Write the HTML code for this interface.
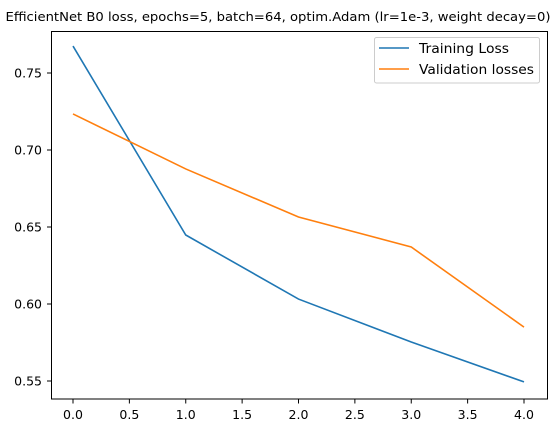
<!DOCTYPE html>
<html><head><meta charset="utf-8"><style>
html,body{margin:0;padding:0;background:#fff;}
svg{display:block;font-family:"DejaVu Sans","Liberation Sans",sans-serif;}
</style></head><body>
<svg id="chart" width="556" height="433" viewBox="0 0 556 433">
<text x="278" y="21" text-anchor="middle" font-size="12.5" fill="#000" textLength="545" lengthAdjust="spacingAndGlyphs">EfficientNet B0 loss, epochs=5, batch=64, optim.Adam (lr=1e-3, weight decay=0)</text>
<g id="axes"></g>
<g id="series"></g>
<rect x="51.5" y="31.5" width="496" height="367.5" fill="none" stroke="#000" stroke-width="1"/>
<g>
<rect x="374.5" y="37.5" width="165" height="45.5" rx="2" fill="#fff" fill-opacity="0.8" stroke="#ccc"/>
<line x1="379" y1="48" x2="409" y2="48" stroke="#1f77b4" stroke-width="1.6"/>
<text x="419" y="53" font-size="13" textLength="90" lengthAdjust="spacingAndGlyphs">Training Loss</text>
<line x1="379" y1="69" x2="409" y2="69" stroke="#ff7f0e" stroke-width="1.6"/>
<text x="419" y="74" font-size="13" textLength="115" lengthAdjust="spacingAndGlyphs">Validation losses</text>
</g>
</svg>
<script>
const epochs=[0,1,2,3,4];
const trainLoss=[0.7675,0.6448,0.6032,0.5753,0.5494];
const valLoss=[0.7234,0.6877,0.6565,0.637,0.585];
const xTicks=[0,0.5,1,1.5,2,2.5,3,3.5,4];
const xTickLabels=["0.0","0.5","1.0","1.5","2.0","2.5","3.0","3.5","4.0"];
const yTicks=[0.55,0.60,0.65,0.70,0.75];
const yTickLabels=["0.55","0.60","0.65","0.70","0.75"];
const NS="http://www.w3.org/2000/svg";
function xs(v){return 73+v*112.75;}
function ys(v){return 381-(v-0.55)*1540;}
const axes=document.getElementById('axes');
xTicks.forEach((t,i)=>{
 const l=document.createElementNS(NS,'line');
 l.setAttribute('x1',xs(t));l.setAttribute('x2',xs(t));l.setAttribute('y1',399);l.setAttribute('y2',403.5);l.setAttribute('stroke','#000');
 
 
 axes.appendChild(l);
 const tx=document.createElementNS(NS,'text');
 tx.setAttribute('x',xs(t));tx.setAttribute('y',419);tx.setAttribute('text-anchor','middle');tx.setAttribute('font-size','12.5');
 tx.textContent=xTickLabels[i];
 
 
 axes.appendChild(tx);
});
yTicks.forEach((t,i)=>{
 const l=document.createElementNS(NS,'line');
 l.setAttribute('x1',47);l.setAttribute('x2',51.5);l.setAttribute('y1',ys(t));l.setAttribute('y2',ys(t));l.setAttribute('stroke','#000');
 
 
 axes.appendChild(l);
 const tx=document.createElementNS(NS,'text');
 tx.setAttribute('x',42);tx.setAttribute('y',ys(t)+4.5);tx.setAttribute('text-anchor','end');tx.setAttribute('font-size','12.5');
 tx.textContent=yTickLabels[i];
 
 
 axes.appendChild(tx);
});
const series=document.getElementById('series');
function line(vals,color,name){
 const p=document.createElementNS(NS,'polyline');
 p.setAttribute('points',epochs.map((e,i)=>xs(e)+','+ys(vals[i])).join(' '));
 p.setAttribute('fill','none');p.setAttribute('stroke',color);p.setAttribute('stroke-width','1.6');
 
 
 series.appendChild(p);
}
line(trainLoss,'#1f77b4','training-loss-line');
line(valLoss,'#ff7f0e','validation-loss-line');
</script>
</body></html>
